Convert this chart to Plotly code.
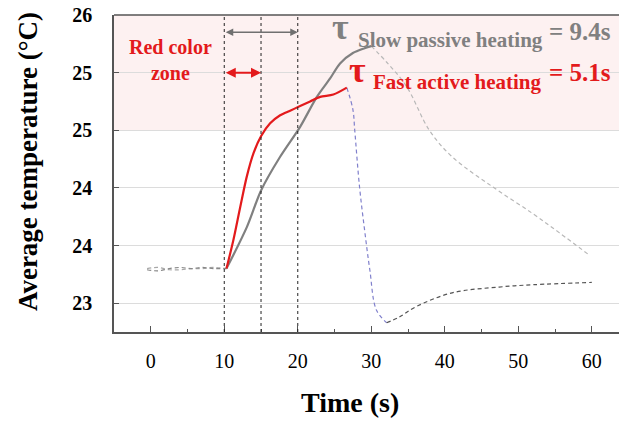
import plotly.graph_objects as go

FONT = "Liberation Serif"

# Baseline (before heating)
base_t = [-0.5, 1, 2.5, 4, 5.5, 7, 8.5, 10.3]
base_active = [23.79, 23.78, 23.80, 23.81, 23.80, 23.81, 23.80, 23.80]
base_passive = [23.80, 23.81, 23.79, 23.79, 23.80, 23.80, 23.81, 23.80]

# Fast active heating (red)
act_t = [10.3, 11.25, 12.16, 13.07, 13.97, 15.02, 16.24, 17.6, 18.96, 20.32, 21.68, 23.04, 24.84, 26.67]
act_y = [23.80, 24.05, 24.33, 24.60, 24.80, 24.95, 25.06, 25.13, 25.17, 25.21, 25.25, 25.29, 25.31, 25.37]

# Slow passive heating (gray)
pas_t = [10.3, 13.07, 15.02, 17.6, 20.32, 22.6, 24.4, 25.75, 27.5, 29.0, 30.0]
pas_y = [23.80, 24.16, 24.48, 24.77, 25.03, 25.29, 25.45, 25.58, 25.67, 25.71, 25.73]

# Passive cooling (light gray dashed)
pcool_t = [30.0, 32.1, 34.8, 37.9, 41.0, 46.5, 51.9, 55.6, 59.6]
pcool_y = [25.73, 25.59, 25.38, 25.0, 24.77, 24.51, 24.28, 24.11, 23.92]

# Active cooling, fast drop (blue dashed)
adrop_t = [26.67, 27.5, 27.75, 28.4, 29.1, 29.8, 30.7, 32.1]
adrop_y = [25.37, 25.18, 25.0, 24.51, 24.13, 23.79, 23.44, 23.33]

# Active recovery (dark dashed)
arec_t = [32.1, 33.8, 36.1, 41.0, 47.4, 52.0, 60.0]
arec_y = [23.33, 23.38, 23.47, 23.59, 23.64, 23.66, 23.68]

y_tickvals = [23.5, 24, 24.5, 25, 25.5, 26]
y_ticktext = ["23", "24", "24", "25", "25", "26"]
x_tickvals = [0, 10, 20, 30, 40, 50, 60]
vlines = [10, 15, 20]

RED = "#e31a1c"
GRAY = "#808080"
DASH = "4px,3px"

fig = go.Figure()

fig.add_trace(go.Scatter(x=base_t, y=base_passive, mode="lines", line_shape="spline",
                         line=dict(color="#a8a8a8", width=1.2, dash=DASH), showlegend=False))
fig.add_trace(go.Scatter(x=base_t, y=base_active, mode="lines", line_shape="spline",
                         line=dict(color="#888888", width=1.2, dash=DASH), showlegend=False))
fig.add_trace(go.Scatter(x=pcool_t, y=pcool_y, mode="lines", line_shape="spline",
                         line=dict(color="#b8b8b8", width=1.2, dash=DASH), showlegend=False))
fig.add_trace(go.Scatter(x=adrop_t, y=adrop_y, mode="lines", line_shape="spline",
                         line=dict(color="#8080cc", width=1.2, dash=DASH), showlegend=False))
fig.add_trace(go.Scatter(x=arec_t, y=arec_y, mode="lines", line_shape="spline",
                         line=dict(color="#555555", width=1.2, dash=DASH), showlegend=False))
fig.add_trace(go.Scatter(x=pas_t, y=pas_y, mode="lines", line_shape="spline",
                         line=dict(color=GRAY, width=2.2, smoothing=0.8), showlegend=False))
fig.add_trace(go.Scatter(x=act_t, y=act_y, mode="lines", line_shape="spline",
                         line=dict(color=RED, width=2.2, smoothing=0.8), showlegend=False))

# red color zone
fig.add_shape(type="rect", xref="paper", x0=0, x1=1, yref="y", y0=25, y1=26,
              fillcolor="#fdf1f1", line_width=0, layer="below")

for v in vlines:
    fig.add_shape(type="line", xref="x", x0=v, x1=v, yref="paper", y0=0, y1=1,
                  line=dict(color="#222222", width=1, dash="3px,3px"))

# double arrows
fig.add_annotation(x=20, y=25.85, ax=10, ay=25.85, xref="x", yref="y", axref="x", ayref="y",
                   text="", showarrow=True, arrowhead=2, startarrowhead=2, arrowside="end+start",
                   arrowsize=1, arrowwidth=1.5, arrowcolor="#707070")
fig.add_annotation(x=15, y=25.5, ax=10, ay=25.5, xref="x", yref="y", axref="x", ayref="y",
                   text="", showarrow=True, arrowhead=2, startarrowhead=2, arrowside="end+start",
                   arrowsize=1, arrowwidth=2, arrowcolor=RED)

def txt(x, y, s, size, color, xanchor="center"):
    fig.add_annotation(x=x, y=y, xref="x", yref="y", text=s, showarrow=False,
                       font=dict(family=FONT, size=size, color=color), xanchor=xanchor,
                       yanchor="middle", align="center", borderpad=0)

txt(2.65, 25.61, "<b>Red color<br>zone</b>", 20, RED)
txt(25.8, 25.90, "<b>τ</b>", 36, GRAY)
txt(28.0, 25.78, "<b>Slow passive heating</b>", 21, GRAY, "left")
txt(54.0, 25.86, "<b>= 9.4s</b>", 25, GRAY, "left")
txt(28.1, 25.52, "<b>τ</b>", 36, RED)
txt(30.1, 25.42, "<b>Fast active heating</b>", 21, RED, "left")
txt(54.0, 25.50, "<b>= 5.1s</b>", 25, RED, "left")

# axis titles
fig.add_annotation(x=(28 - 114) / 505, y=0.536, xref="paper", yref="paper",
                   text="<b>Average temperature (°C)</b>", xanchor="center", yanchor="middle",
                   textangle=-90, showarrow=False, font=dict(family=FONT, size=27, color="black"))
fig.add_annotation(x=(350 - 114) / 505, y=-0.221, xref="paper", yref="paper", text="<b>Time (s)</b>",
                   xanchor="center", yanchor="middle",
                   showarrow=False, font=dict(family=FONT, size=28, color="black"))

fig.update_layout(
    width=619, height=422,
    margin=dict(l=114, r=0, t=15, b=90),
    paper_bgcolor="white", plot_bgcolor="white",
    font=dict(family=FONT, color="black"),
    xaxis=dict(range=[-5, 63.7], tickvals=x_tickvals, ticks="inside", ticklen=6,
               tickcolor="#555555", showgrid=False, zeroline=False,
               showline=True, linecolor="#555555", linewidth=1.5, mirror=False,
               tickfont=dict(family=FONT, size=20), ticklabelstandoff=10,
               tickprefix="<b>", ticksuffix="</b>",
               minor=dict(ticks="inside", ticklen=3, dtick=5, tick0=5, tickcolor="#555555", showgrid=False)),
    yaxis=dict(range=[23.25, 26], tickvals=y_tickvals, ticktext=["<b>%s</b>" % t for t in y_ticktext],
               ticks="inside", ticklen=5, tickcolor="#555555",
               showgrid=True, gridcolor="#dcdcdc", gridwidth=1, zeroline=False,
               showline=True, linecolor="#555555", linewidth=1.5,
               tickfont=dict(family=FONT, size=20), ticklabelstandoff=16),
)
fig.add_shape(type="line", xref="paper", x0=0, x1=1, yref="paper", y0=1, y1=1,
              line=dict(color="#555555", width=1.5))

fig.write_html("out.html")
